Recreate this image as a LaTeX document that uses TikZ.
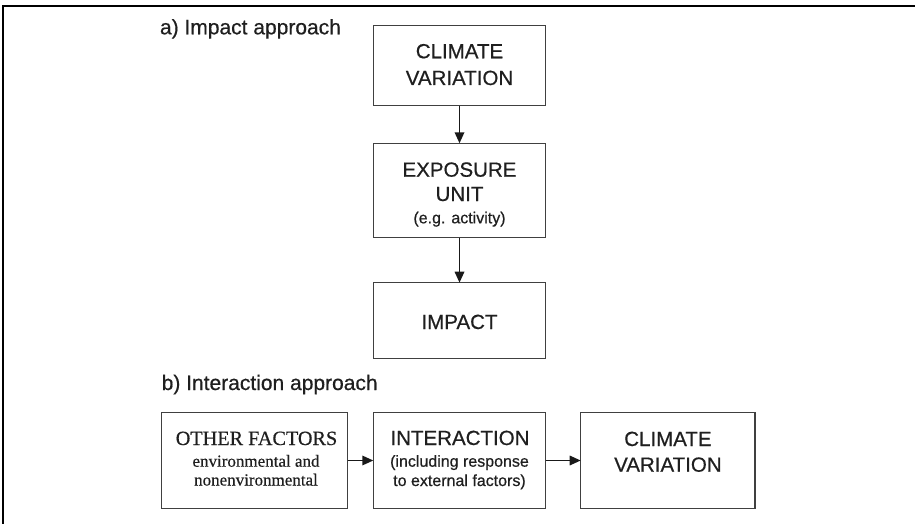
\documentclass[tikz,border=0pt]{standalone}
\usepackage{fontspec}
\setmainfont{Liberation Sans}[FakeBold=0.6]
\newfontfamily\timesfont{Liberation Serif}[FakeBold=0.5]
\usetikzlibrary{arrows.meta}
\begin{document}
\begin{tikzpicture}[x=1pt,y=-1pt,
  box/.style={draw=black!75, line width=1.5pt, inner sep=0pt, outer sep=0pt},
  txt/.style={anchor=base, inner sep=0pt, outer sep=0pt, text=black!88},
  ttl/.style={txt, font=\fontsize{20.5}{24}\selectfont},
  sub/.style={txt, font=\fontsize{16}{19}\selectfont},
  sttl/.style={txt, font=\timesfont\fontsize{20.2}{24}\selectfont},
  ssub/.style={txt, font=\timesfont\fontsize{17}{20}\selectfont},
  lbl/.style={anchor=base west, inner sep=0pt, outer sep=0pt, text=black!88, font=\fontsize{21}{24}\selectfont},
  arr/.style={-{Triangle[length=11pt,width=9.5pt]}, line width=1.7pt, draw=black!90}]
\useasboundingbox (0,0) rectangle (915,524);
% outer frame (open on right and bottom)
\coordinate (fbl) at (3,524);
\coordinate (ftl) at (3,6);
\coordinate (ftr) at (915,6);
\draw[line width=2.6pt, miter limit=10] (fbl) -- (ftl) -- (ftr);

% section labels
\node[lbl] (la) at (160,34.3) {a) Impact approach};
\node[lbl] (lb) at (161.7,390) {b) Interaction approach};

% a) impact approach boxes
\node[box, minimum width=172.4pt, minimum height=80pt] (c1) at (459.5,65.7) {};
\node[box, minimum width=172.4pt, minimum height=94.4pt] (e) at (459.5,190.5) {};
\node[box, minimum width=172.4pt, minimum height=75.6pt] (i) at (459.5,320.5) {};

\node[ttl] (c1a) at (459.5,58.3) {CLIMATE};
\node[ttl] (c1b) at (459.5,85) {VARIATION};
\node[ttl] (ea) at (459.5,176.7) {EXPOSURE};
\node[ttl] (eb) at (459.5,201) {UNIT};
\node[sub] (ec) at (459.5,223.3) {(e.g. activity)};
\node[ttl] (ia) at (459.5,329) {IMPACT};

\draw[arr] (c1) -- (e);
\draw[arr] (e) -- (i);

% b) interaction approach boxes
\node[box, minimum width=186pt, minimum height=95.6pt] (o) at (254.7,460.5) {};
\node[box, minimum width=172.4pt, minimum height=95.6pt] (n) at (459.5,460.5) {};
\node[box, minimum width=174.3pt, minimum height=95.6pt] (c2) at (667.85,460.5) {};

\node[sttl] (oa) at (256.5,445) {OTHER FACTORS};
\node[ssub] (ob) at (256,466.7) {environmental and};
\node[ssub] (oc) at (256,485.5) {nonenvironmental};

\node[ttl] (na) at (460,445) {INTERACTION};
\node[sub] (nb) at (459.5,466.7) {(including response};
\node[sub] (nc) at (459.5,486) {to external factors)};

\node[ttl] (c2a) at (667.9,446) {CLIMATE};
\node[ttl] (c2b) at (667.9,471.7) {VARIATION};

\draw[arr] (o) -- (n);
\draw[arr] (n) -- (c2);
\end{tikzpicture}
\end{document}
